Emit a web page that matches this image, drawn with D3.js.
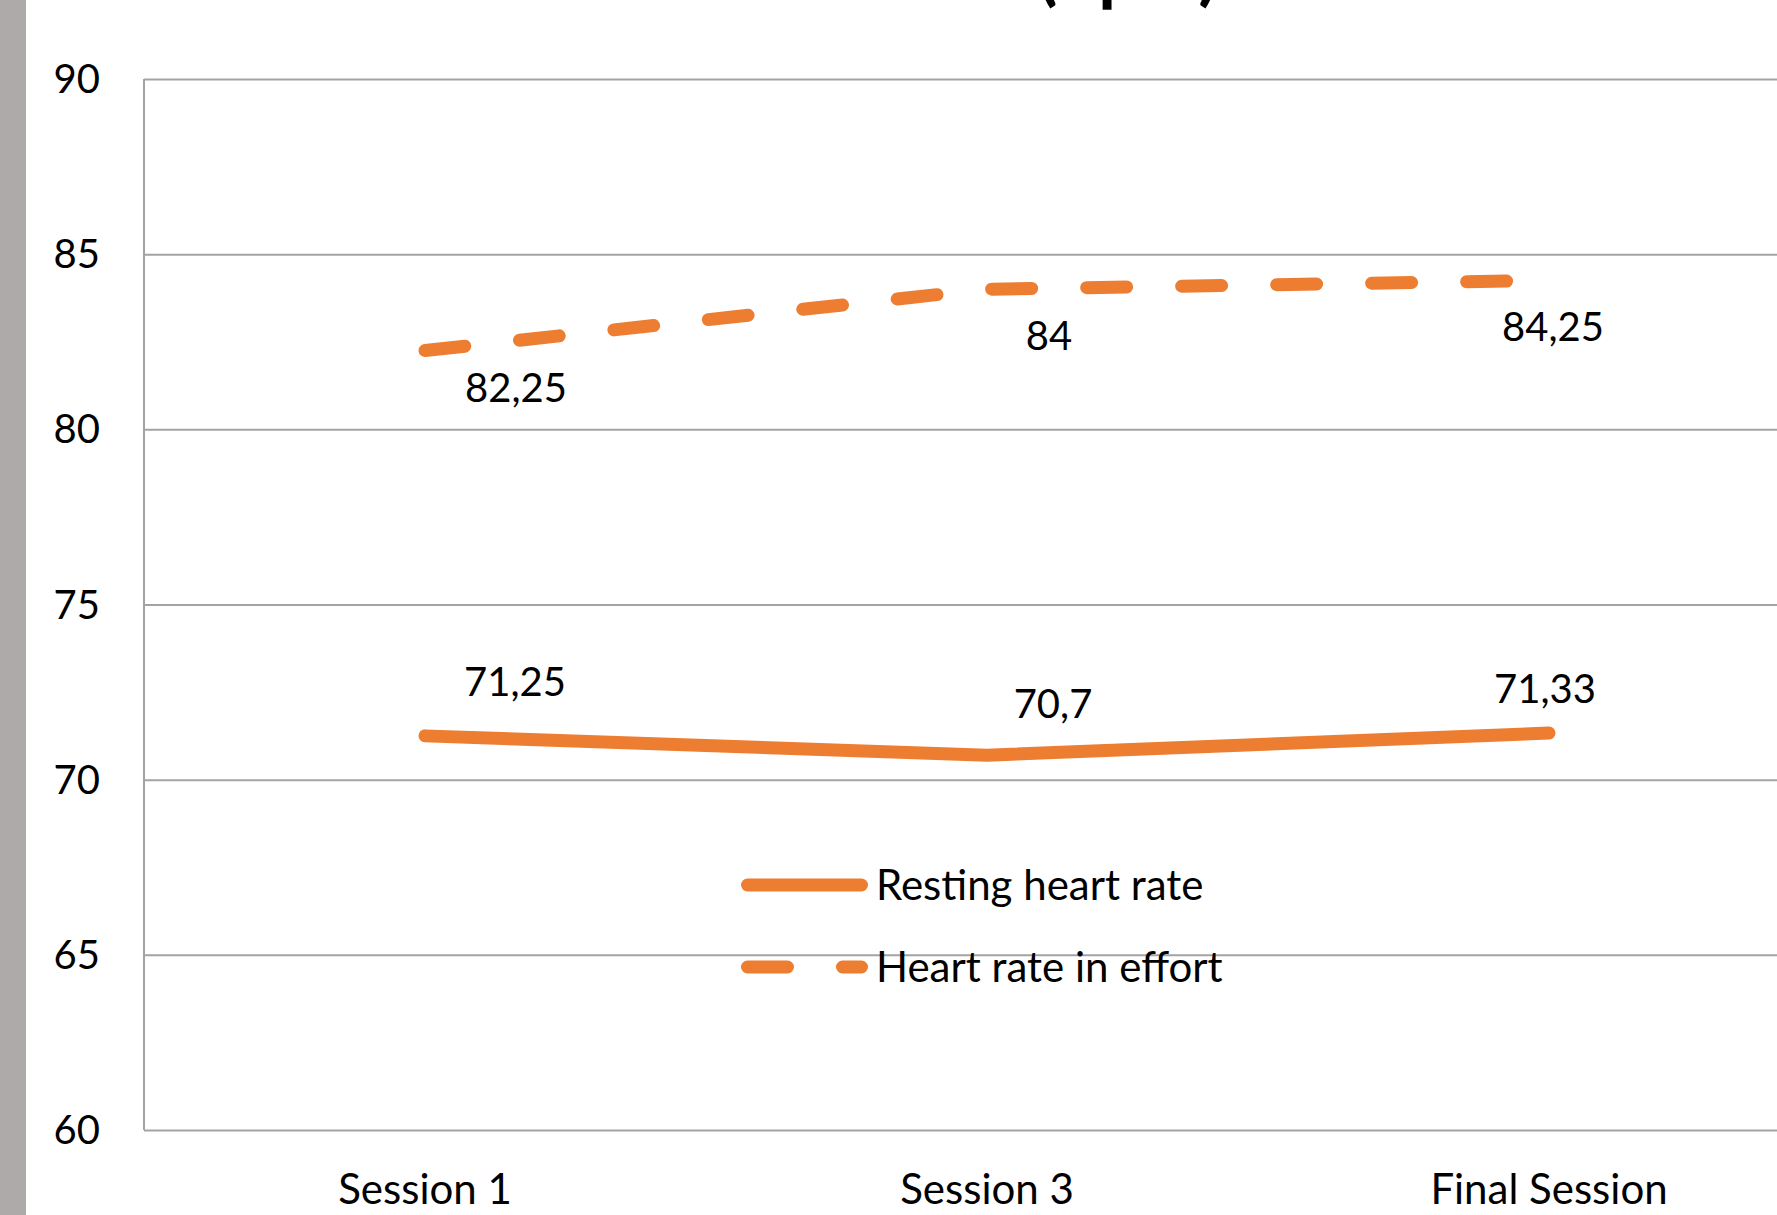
<!DOCTYPE html>
<html>
<head>
<meta charset="utf-8">
<script src="https://cdn.jsdelivr.net/npm/d3@7"></script>
<style>
  html, body { margin: 0; padding: 0; background: #fff; overflow: hidden; }
  svg { display: block; font-family: Lato, "Open Sans", sans-serif; }
</style>
</head>
<body>
<svg id="chart" width="1777" height="1215"></svg>
<script>
// ---- data ----
const categories = ["Session 1", "Session 3", "Final Session"];
const restingHeartRate = [71.25, 70.7, 71.33];
const effortHeartRate = [82.25, 84, 84.25];
const seriesNames = ["Resting heart rate", "Heart rate in effort"];
const yTicks = [60, 65, 70, 75, 80, 85, 90];
const titleText = "Heart rate (bpm)";

// ---- layout (not data) ----
const W = 1777, H = 1215;
const plotLeft = 144, plotTop = 79, plotBottom = 1130, plotRight = 1830;
const orange = "#ED7D31";
const gridColor = "#a3a3a3";
// manual label offsets (px) relative to each point, as placed in the original
const effortLabelOffsets = [[91, 37], [62, 46], [4, 46]];
const restingLabelOffsets = [[90, -54], [66, -52], [-4, -44]];

const svg = d3.select("#chart");

const x = d3.scaleBand().domain(categories).range([plotLeft, plotRight]);
const y = d3.scaleLinear().domain([60, 90]).range([plotBottom, plotTop]);
const cx = d => x(d) + x.bandwidth() / 2;

// left gray strip
svg.append("rect").attr("x", 0).attr("y", 0).attr("width", 26).attr("height", H).attr("fill", "#aeaaaa");

// title (mostly cut off at top)
svg.append("text")
  .attr("x", 1218).attr("y", -3)
  .attr("text-anchor", "end")
  .attr("font-size", 72).attr("font-weight", "bold")
  .attr("fill", "#000")
  .text(titleText);

// gridlines + y axis
const yAxis = d3.axisLeft(y).tickValues(yTicks).tickSize(-(plotRight - plotLeft)).tickPadding(0);
const gy = svg.append("g").attr("transform", `translate(${plotLeft},0)`).call(yAxis);
gy.select(".domain").remove();
gy.selectAll(".tick line").attr("stroke", gridColor).attr("stroke-width", 2);
gy.selectAll(".tick text")
  .attr("x", -44)
  .attr("font-size", 40)
  .attr("fill", "#000")
  .attr("dy", "0.34em")
  .style("font-family", "Lato, 'Open Sans', sans-serif");

// left axis line
svg.append("line")
  .attr("x1", plotLeft).attr("x2", plotLeft)
  .attr("y1", plotTop).attr("y2", plotBottom)
  .attr("stroke", gridColor).attr("stroke-width", 2);

// x axis labels
const xAxis = d3.axisBottom(x).tickSize(0).tickPadding(0);
const gx = svg.append("g").attr("transform", `translate(0,${plotBottom})`).call(xAxis);
gx.select(".domain").remove();
gx.selectAll(".tick text")
  .attr("y", 59)
  .attr("dy", "0.36em")
  .attr("font-size", 42)
  .attr("fill", "#000")
  .style("font-family", "Lato, 'Open Sans', sans-serif");

// lines
const line = d3.line().x((d, i) => cx(categories[i])).y(d => y(d));

svg.append("path")
  .datum(restingHeartRate)
  .attr("d", line)
  .attr("fill", "none")
  .attr("stroke", orange)
  .attr("stroke-width", 13)
  .attr("stroke-linecap", "round")
  .attr("stroke-linejoin", "round");

svg.append("path")
  .datum(effortHeartRate)
  .attr("d", line)
  .attr("fill", "none")
  .attr("stroke", orange)
  .attr("stroke-width", 13)
  .attr("stroke-linecap", "round")
  .attr("stroke-linejoin", "round")
  .attr("stroke-dasharray", "40,55");

// data labels
const fmt = v => String(v).replace(".", ",");
function labels(data, offsets) {
  svg.append("g").selectAll("text")
    .data(data)
    .join("text")
    .attr("x", (d, i) => cx(categories[i]) + offsets[i][0])
    .attr("y", (d, i) => y(d) + offsets[i][1])
    .attr("dy", "0.36em")
    .attr("text-anchor", "middle")
    .attr("font-size", 40)
    .attr("fill", "#000")
    .text(fmt);
}
labels(effortHeartRate, effortLabelOffsets);
labels(restingHeartRate, restingLabelOffsets);

// legend
const legend = svg.append("g");
const legendY = [885, 967];
const legendDash = [null, "40,55"];
seriesNames.forEach((name, i) => {
  legend.append("line")
    .attr("x1", 747.5).attr("x2", 861.5)
    .attr("y1", legendY[i]).attr("y2", legendY[i])
    .attr("stroke", orange).attr("stroke-width", 13)
    .attr("stroke-linecap", "round")
    .attr("stroke-dasharray", legendDash[i]);
  legend.append("text")
    .attr("x", 876).attr("y", legendY[i])
    .attr("dy", "0.36em")
    .attr("font-size", 42)
    .attr("fill", "#000")
    .text(name);
});
</script>
</body>
</html>
